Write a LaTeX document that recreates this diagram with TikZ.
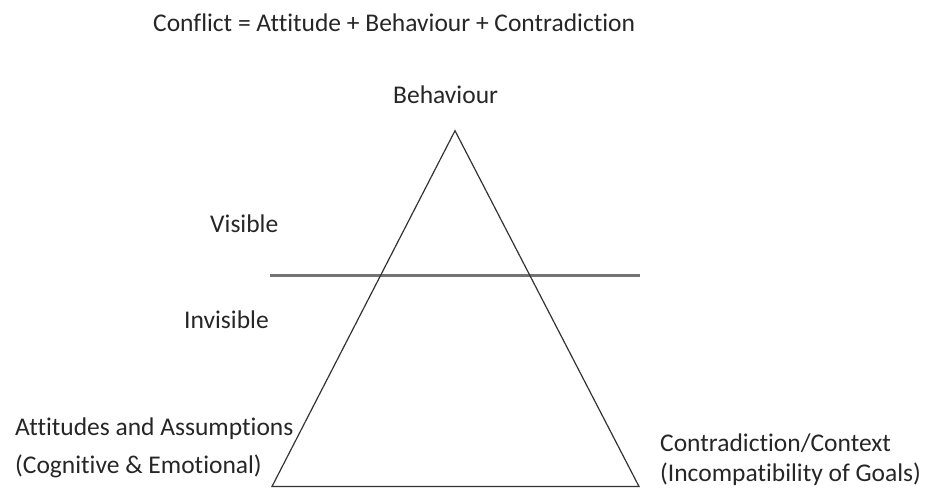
\documentclass[tikz,border=0pt]{standalone}
\usepackage{fontspec}
\setmainfont{Carlito}[Ligatures={NoCommon,NoRequired,NoContextual}]
\begin{document}
\begin{tikzpicture}[x=1pt,y=-1pt,
  lbl/.style={anchor=base west,inner sep=0pt,text=black!85,font=\fontsize{25.5}{30}\selectfont},
  tri/.style={draw=black!80,line width=1.2pt,line join=miter},
  divider/.style={draw=black!55,line width=2.6pt}]
\useasboundingbox (0,0) rectangle (931,488);
% labels
\node[lbl] (title) at (153,31) {Conflict = Attitude + Behaviour + Contradiction};
\node[lbl] (beh) at (393,103) {Behaviour};
\node[lbl] (vis) at (210,232) {Visible};
\node[lbl] (invis) at (184,328) {Invisible};
\node[lbl] (att1) at (15,435) {Attitudes and Assumptions};
\node[lbl] (att2) at (15,473) {(Cognitive \& Emotional)};
\node[lbl] (con1) at (660,451) {Contradiction/Context};
\node[lbl] (con2) at (660,481) {(Incompatibility of Goals)};
% triangle
\coordinate (apex) at (455,130.7);
\coordinate (bl) at (272,486.5);
\coordinate (br) at (639,486.5);
\coordinate (hl) at (270,275.7);
\coordinate (hr) at (640,275.7);
\draw[divider] (hl) -- (hr);
\draw[tri] (bl) -- (apex) -- (br) -- cycle;
\end{tikzpicture}
\end{document}
